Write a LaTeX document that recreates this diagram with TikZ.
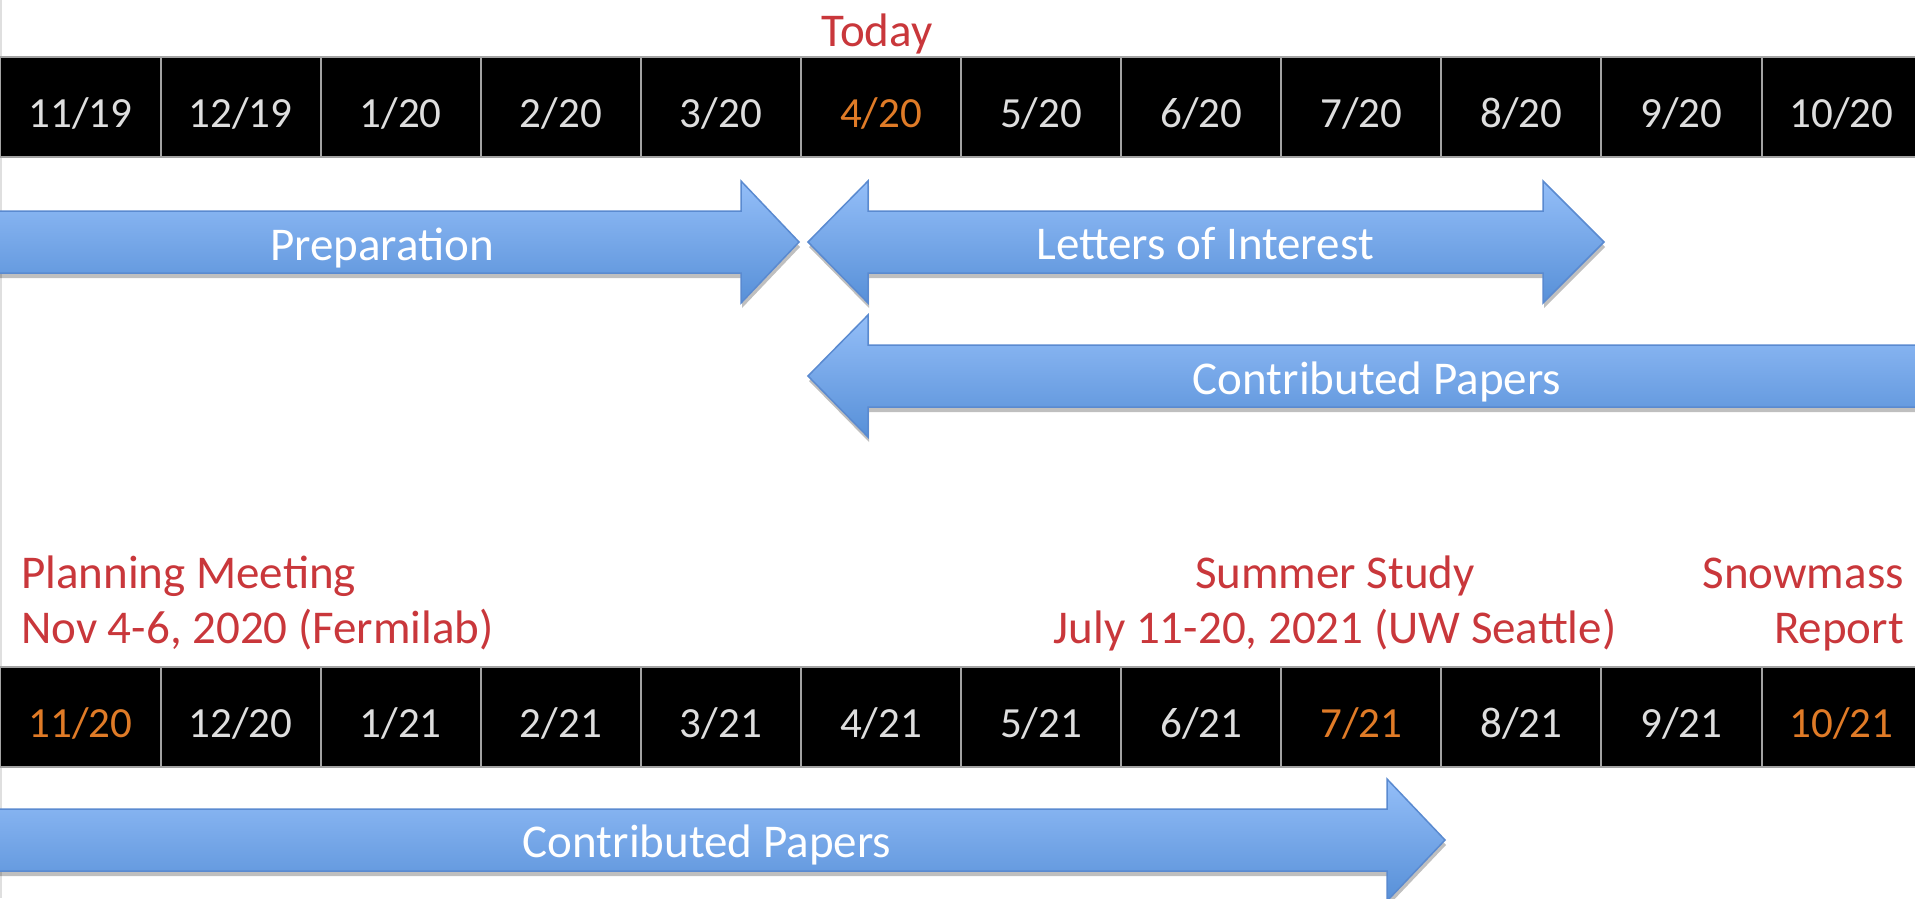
\documentclass[tikz,border=0pt]{standalone}
\usepackage{fontspec}
\setmainfont{Carlito}
\usetikzlibrary{shadows}
\definecolor{cellgray}{HTML}{A3A3A3}
\definecolor{datecol}{HTML}{DEDEDE}
\definecolor{hotcol}{HTML}{E07B27}
\definecolor{redcol}{HTML}{C9373B}
\definecolor{arrtop}{HTML}{94BEF8}
\definecolor{arrbot}{HTML}{5790D8}
\definecolor{arredge}{HTML}{5A8AD0}
\tikzset{
  cell/.style={draw=cellgray, line width=2pt, fill=black, minimum width=160.1pt,
    minimum height=100pt, inner sep=0pt, text=#1,
    font=\fontsize{43}{50}\selectfont, text height=40pt, text depth=0pt},
  bigarrow/.style={top color=arrtop, bottom color=arrbot, draw=arredge, line width=1.5pt,
    drop shadow={shadow xshift=1pt, shadow yshift=-5pt, opacity=0.25, fill=black}},
  arrlabel/.style={text=white, font=\fontsize{47}{56}\selectfont, inner sep=0pt, anchor=base},
  redlabel/.style={text=redcol, font=\fontsize{47}{56}\selectfont, inner sep=0pt},
}
\begin{document}
\begin{tikzpicture}[x=1pt,y=-1pt]
\useasboundingbox[fill=white] (0,0) rectangle (1915,898);
\draw[gray!25, line width=2pt] (1,0) -- (1,898);

% top timeline
\foreach \m/\yy/\c [count=\i from 0] in {11/19/datecol,12/19/datecol,1/20/datecol,2/20/datecol,3/20/datecol,4/20/hotcol,5/20/datecol,6/20/datecol,7/20/datecol,8/20/datecol,9/20/datecol,10/20/datecol}
  \node[cell=\c] (t\i) at ({160.1*\i+80.5},107) {\m/\yy};

% bottom timeline
\foreach \m/\yy/\c [count=\i from 0] in {11/20/hotcol,12/20/datecol,1/21/datecol,2/21/datecol,3/21/datecol,4/21/datecol,5/21/datecol,6/21/datecol,7/21/hotcol,8/21/datecol,9/21/datecol,10/21/hotcol}
  \node[cell=\c] (b\i) at ({160.1*\i+80.5},717) {\m/\yy};

% arrows
\path[bigarrow] (-10,211) -- (741,211) -- (741,181) -- (799,242) -- (741,303) -- (741,273) -- (-10,273) -- cycle;
\path[bigarrow] (808,242) -- (868,181) -- (868,211) -- (1543,211) -- (1543,181) -- (1604,242) -- (1543,303) -- (1543,273) -- (868,273) -- (868,303) -- cycle;
\path[bigarrow] (808,376) -- (868,315) -- (868,345) -- (1935,345) -- (1935,407) -- (868,407) -- (868,437) -- cycle;
\path[bigarrow] (-10,809) -- (1387,809) -- (1387,779) -- (1445,840) -- (1387,901) -- (1387,871) -- (-10,871) -- cycle;

\node[arrlabel] (prep) at (382,260) {Preparation};
\node[arrlabel] (loi) at (1205,259) {Letters of Interest};
\node[arrlabel] (cp1) at (1377,394) {Contributed Papers};
\node[arrlabel] (cp2) at (707,857) {Contributed Papers};

% red labels
\node[redlabel, anchor=base] (today) at (877,46.5) {Today};
\node[redlabel, anchor=base west] (plan1) at (21,588) {Planning Meeting};
\node[redlabel, anchor=base west] (plan2) at (21,643) {Nov 4-6, 2020 (Fermilab)};
\node[redlabel, anchor=base] (sum1) at (1335,588) {Summer Study};
\node[redlabel, anchor=base] (sum2) at (1335,643) {July 11-20, 2021 (UW Seattle)};
\node[redlabel, anchor=base east] (snow1) at (1904,588) {Snowmass};
\node[redlabel, anchor=base east] (snow2) at (1904,643) {Report};
\end{tikzpicture}
\end{document}
